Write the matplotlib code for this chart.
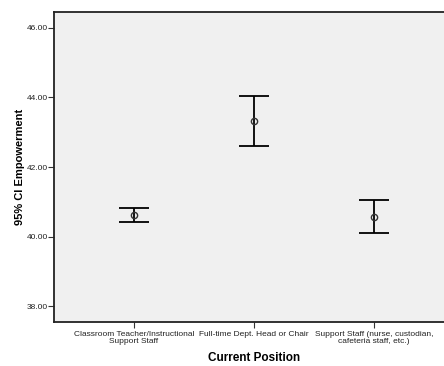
import matplotlib
matplotlib.use("Agg")
import matplotlib.pyplot as plt

categories = ["Classroom Teacher/Instructional\nSupport Staff",
              "Full-time Dept. Head or Chair",
              "Support Staff (nurse, custodian,\ncafeteria staff, etc.)"]
means = [40.62, 43.32, 40.57]
lower = [40.43, 42.60, 40.09]
upper = [40.81, 44.05, 41.05]
yticks = [38.0, 40.0, 42.0, 44.0, 46.0]

plt.rcParams['font.family'] = ['Liberation Sans', 'DejaVu Sans']

fig = plt.figure(figsize=(4.44, 3.66), dpi=100)
ax = fig.add_axes([54/444, 44.3/366, 400/444, 309.4/366])
ax.set_facecolor('#f0f0f0')

x = [1, 2, 3]
yerr = [[m - l for m, l in zip(means, lower)], [u - m for m, u in zip(means, upper)]]
ax.errorbar(x, means, yerr=yerr, fmt='none', ecolor='black', elinewidth=1.3,
            capsize=10.5, capthick=1.3)
ax.plot(x, means, 'o', markerfacecolor='none', markeredgecolor='#333333',
        markersize=4.5, markeredgewidth=1.0)

ax.set_xlim(1 - 80/120, 3 + 80/120)
ax.set_ylim(37.55, 46.45)
ax.set_yticks(yticks)
ax.set_yticklabels([f"{v:.2f}" for v in yticks], fontsize=6, color='#222222')
ax.set_xticks(x)
ax.set_xticklabels(categories, fontsize=6, color='#222222', linespacing=1.15)
ax.tick_params(axis='both', direction='out', length=4, width=0.8, color='#333333')
ax.tick_params(axis='y', pad=0.5)
ax.tick_params(axis='x', pad=2.5)

for s in ['left', 'top', 'bottom']:
    ax.spines[s].set_linewidth(1.3)
    ax.spines[s].set_color('#222222')
ax.spines['right'].set_visible(False)

ax.set_ylabel("95% CI Empowerment", fontsize=8, fontweight='bold', labelpad=1)
ax.set_xlabel("Current Position", fontsize=8.5, fontweight='bold', labelpad=5)

fig.savefig("out.png", dpi=100, facecolor='white')
